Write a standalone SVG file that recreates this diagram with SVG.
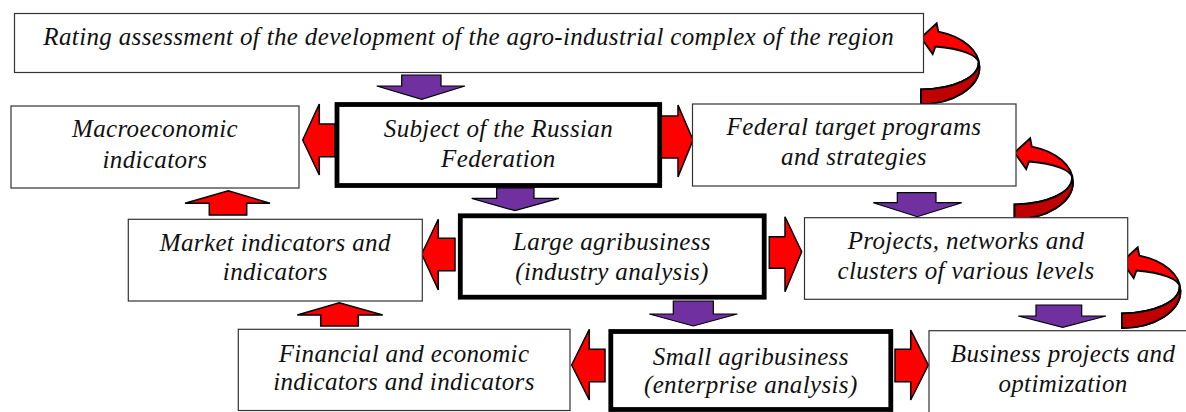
<svg xmlns="http://www.w3.org/2000/svg" width="1186" height="412" viewBox="0 0 1186 412">
  <defs>
    <style>
      .box { fill: #ffffff; stroke: #333333; stroke-width: 1.2; }
      .box-main { fill: #ffffff; stroke: #000000; stroke-width: 4.8; }
      .lbl { font-family: "Liberation Serif", "Times New Roman", serif; font-style: italic; font-size: 25px; letter-spacing: 0.35px; fill: #111111; text-anchor: middle; }
      .down { fill: #7030A0; stroke: #000000; stroke-width: 1.2; stroke-linejoin: miter; }
      .red { fill: #FF0000; stroke: #000000; stroke-width: 1.5; stroke-linejoin: miter; }
      .curl { fill: #FF0000; stroke: #000000; stroke-width: 1.8; stroke-linejoin: miter; }
      .curl-back { fill: #C00000; stroke: #000000; stroke-width: 1.8; }
    </style>
    <!-- curved return arrow: ribbon from the tail (bottom-left) round to a left-pointing head -->
    <g id="curl">
      <path class="curl" d="M 921,37.7 L 936.7,23.3 L 938.3,31.6 A 58.5 37 0 0 1 979.5,67 A 58.5 37 0 0 1 921,104 L 921,89.3 A 57.5 26.3 0 0 0 978.5,63 A 57.5 17 0 0 0 935.5,46.5 L 932.7,54 Z"/>
      <path class="curl-back" d="M 921,89.3 A 57.5 26.3 0 0 0 978.5,63 L 979.5,67 A 58.5 37 0 0 1 921,104 Z"/>
    </g>
  </defs>

  <rect width="1186" height="412" fill="#ffffff"/>

  <g id="connectors">
    <!-- vertical flow arrows (purple) -->
    <path class="down" d="M 401.7,75 H 441 V 86 H 465 L 421.7,99.3 L 376.7,86 H 401.7 Z"/>
    <path class="down" d="M 496.7,188 H 534 V 198.3 H 559 L 515,210.7 L 471.7,198.3 H 496.7 Z"/>
    <path class="down" d="M 897.3,192.7 H 936 V 202.7 H 961.7 L 917.3,216.7 L 873.3,202.7 H 897.3 Z"/>
    <path class="down" d="M 673.3,301 H 713.3 V 314 H 737.3 L 693.3,326 L 649.3,314 H 673.3 Z"/>
    <path class="down" d="M 1036,305 H 1081.7 V 316 H 1106 L 1062.7,327.3 L 1018.3,316 H 1036 Z"/>

    <!-- horizontal block arrows (red) -->
    <path class="red" d="M 335,124 V 156.7 H 319.3 V 175 L 302.7,140 L 319.3,104 V 124 Z"/>
    <path class="red" d="M 661,116 V 158 H 678 V 177 L 693,140 L 678,105 V 116 Z"/>
    <path class="red" d="M 455,238.3 V 270.7 H 438.3 V 290 L 421.7,254 L 438.3,219.3 V 238.3 Z"/>
    <path class="red" d="M 769.3,236.7 V 268.3 H 785 V 291.7 L 801.7,251.7 L 785,216.7 V 236.7 Z"/>
    <path class="red" d="M 605,349.3 V 381.7 H 589.3 V 400 L 571.7,365 L 589.3,329.3 V 349.3 Z"/>
    <path class="red" d="M 895,349.3 V 381.7 H 910.7 V 400 L 928.3,365 L 910.7,330 V 349.3 Z"/>

    <!-- upward block arrows (red) -->
    <path class="red" d="M 209.3,215 V 203.3 H 185 L 228.3,190.7 L 270,203.3 H 246.7 V 215 Z"/>
    <path class="red" d="M 320.7,326 V 315 H 297.3 L 339.3,302.7 L 382.7,315 H 358.3 V 326 Z"/>

    <!-- curved feedback arrows -->
    <use href="#curl"/>
    <use href="#curl" transform="translate(93.5,115)"/>
    <use href="#curl" transform="translate(201,224)"/>
  </g>

  <g id="node-rating">
    <rect class="box" x="14.5" y="13.5" width="909" height="59"/>
    <text class="lbl" x="468.7" y="45">Rating assessment of the development of the agro-industrial complex of the region</text>
  </g>

  <g id="node-macro">
    <rect class="box" x="11" y="106" width="288" height="82"/>
    <text class="lbl" x="155" y="137.3">Macroeconomic</text>
    <text class="lbl" x="155" y="167.7">indicators</text>
  </g>

  <g id="node-subject">
    <rect class="box-main" x="337" y="104.5" width="322.7" height="81"/>
    <text class="lbl" x="498.4" y="137.3">Subject of the Russian</text>
    <text class="lbl" x="498.4" y="167.3">Federation</text>
  </g>

  <g id="node-federal">
    <rect class="box" x="692.5" y="104" width="323.5" height="82"/>
    <text class="lbl" x="854" y="135">Federal target programs</text>
    <text class="lbl" x="854" y="165">and strategies</text>
  </g>

  <g id="node-market">
    <rect class="box" x="128.3" y="219.3" width="294" height="81.7"/>
    <text class="lbl" x="275.3" y="251">Market indicators and</text>
    <text class="lbl" x="275.3" y="280">indicators</text>
  </g>

  <g id="node-large">
    <rect class="box-main" x="460.3" y="215.8" width="303.9" height="81.4"/>
    <text class="lbl" x="612" y="250">Large agribusiness</text>
    <text class="lbl" x="612" y="280">(industry analysis)</text>
  </g>

  <g id="node-projects">
    <rect class="box" x="804.5" y="217.7" width="323.2" height="81.6"/>
    <text class="lbl" x="966" y="249.3">Projects, networks and</text>
    <text class="lbl" x="966" y="279.3">clusters of various levels</text>
  </g>

  <g id="node-financial">
    <rect class="box" x="238.3" y="329.3" width="331.7" height="81.2"/>
    <text class="lbl" x="404" y="361.7">Financial and economic</text>
    <text class="lbl" x="404" y="390">indicators and indicators</text>
  </g>

  <g id="node-small">
    <rect class="box-main" x="610.8" y="331.5" width="280" height="78"/>
    <text class="lbl" x="750.8" y="365">Small agribusiness</text>
    <text class="lbl" x="750.8" y="393.3">(enterprise analysis)</text>
  </g>

  <g id="node-business">
    <rect class="box" x="929" y="330.7" width="268" height="82"/>
    <text class="lbl" x="1063" y="361.7">Business projects and</text>
    <text class="lbl" x="1063" y="391.7">optimization</text>
  </g>
</svg>
